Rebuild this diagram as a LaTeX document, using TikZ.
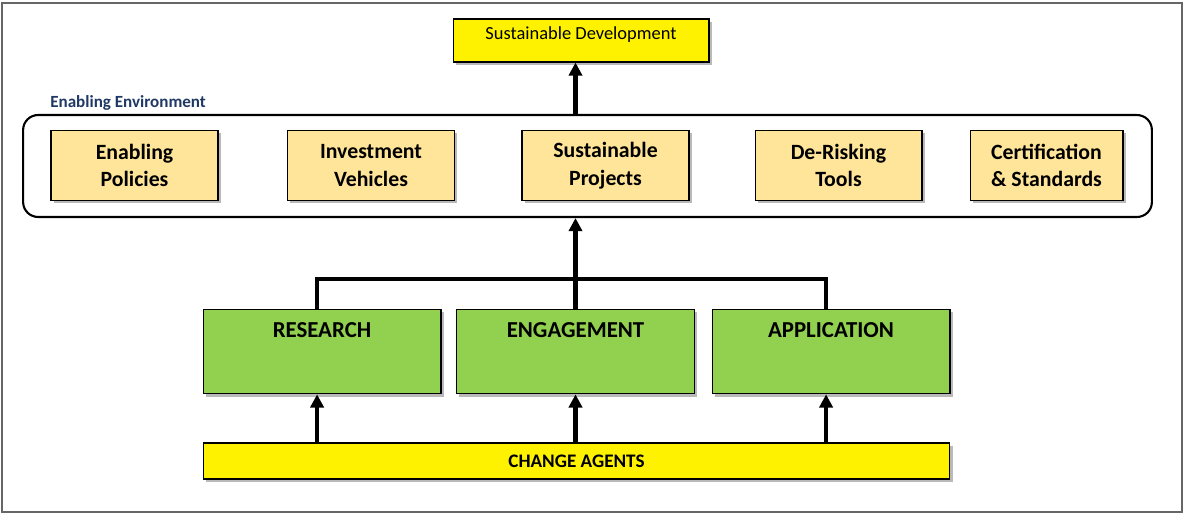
\documentclass[tikz,border=0pt]{standalone}
\usepackage{fontspec}
\setmainfont{Carlito}
\usetikzlibrary{positioning,arrows.meta,shadows}
\definecolor{tanfill}{RGB}{255,229,153}
\definecolor{leaf}{RGB}{146,208,80}
\definecolor{navy}{RGB}{31,56,100}

\begin{document}
\begin{tikzpicture}[x=0.02cm,y=-0.02cm,>={Triangle[width=7.5pt,length=7.5pt]},
  shad/.style={drop shadow={shadow xshift=1.6pt,shadow yshift=-1.6pt,fill=black!55,opacity=0.5}},
  tanbox/.style={draw,semithick,fill=tanfill,shad,minimum width=3.34cm,minimum height=1.4cm,
    align=center,font=\fontsize{12.4}{15.8}\selectfont\bfseries},
  greenbox/.style={draw,semithick,fill=leaf,shad,minimum width=4.76cm,inner sep=4pt,
    text height=12.4pt,text depth=27.8pt,font=\fontsize{13}{15}\selectfont\bfseries},
  yelbox/.style={draw,semithick,fill=yellow,shad},
  link/.style={line width=2.3pt}]
  \useasboundingbox (0,0) rectangle (1185,514);
  \draw[black!60,line width=0.9pt] (2,3) rectangle (1182,512);
  % goal
  \node[yelbox,minimum width=5.12cm,minimum height=0.86cm,text depth=8pt,font=\fontsize{10.5}{12}\selectfont] (sd) at (581,40.5) {Sustainable Development};
  % enabling environment
  \node[anchor=west,inner sep=0pt,text=navy,font=\fontsize{9.7}{11}\selectfont\bfseries] (envlabel) at (50,103) {Enabling Environment};
  \node[draw,line width=1.2pt,rounded corners=0.3cm,minimum width=22.58cm,minimum height=2.04cm] (env) at (587.5,166) {};
  \node[tanbox] (policies) at (134.5,165.5) {Enabling\\Policies};
  \node[tanbox] (vehicles) at (371,165.5) {Investment\\Vehicles};
  \node[tanbox] (projects) at (605.5,165.5) {Sustainable\\Projects};
  \node[tanbox] (tools) at (838.5,165.5) {De-Risking\\Tools};
  \node[tanbox,minimum width=3.06cm] (standards) at (1046.5,165.5) {Certification\\\& Standards};
  % change mechanisms
  \node[greenbox] (research) at (322,351.5) {RESEARCH};
  \node[greenbox] (engagement) at (575.5,351.5) {ENGAGEMENT};
  \node[greenbox] (application) at (831,351.5) {APPLICATION};
  \node[yelbox,minimum width=14.94cm,minimum height=0.72cm,font=\fontsize{10.9}{12}\selectfont\bfseries] (agents) at (576.5,461) {CHANGE AGENTS};
  % connectors
  \coordinate (bus) at (577,279);
  \draw[link] ([xshift=-2.8pt]research.north) |- (bus) -| ([xshift=-2.8pt]application.north);
  \draw[link,->] (engagement.north) -- (engagement.north |- env.south);
  \draw[link,->] (engagement.north |- env.north) -- (engagement.north |- sd.south);
  \foreach \n/\dx in {research/-2.8pt,engagement/0pt,application/-2.8pt}
    \draw[link,->] ([xshift=\dx]agents.north -| \n.south) -- ([xshift=\dx]\n.south);
\end{tikzpicture}
\end{document}
